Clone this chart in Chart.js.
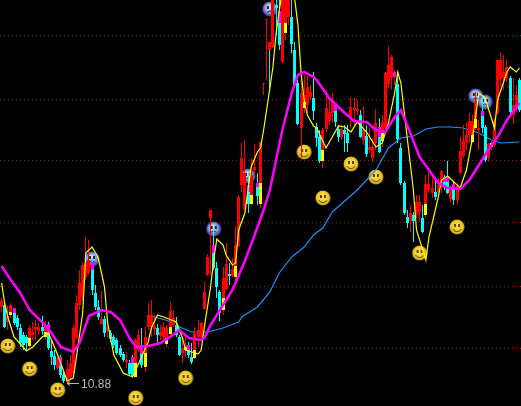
<!DOCTYPE html>
<html>
<head>
<meta charset="utf-8">
<title>K-line</title>
<script src="https://cdn.jsdelivr.net/npm/chart.js@4/dist/chart.umd.min.js"></script>
<style>
  html, body { margin: 0; padding: 0; background: #000; overflow: hidden; }
  canvas { display: block; }
</style>
</head>
<body>
<canvas id="kline" width="521" height="406"></canvas>
<script>
/* ── candles ───────────────────────────────────────────────────── */
const opens = [13.92,14.0,13.32,13.6,13.88,13.48,13.08,12.8,12.72,12.36,12.8,13.0,12.96,13.12,12.72,13.24,12.16,11.96,11.48,11.92,
  11.2,10.92,11.12,11.28,12.68,14.0,14.32,15.12,15.28,15.72,14.48,13.92,13.24,13.44,12.96,12.88,12.72,12.6,12.28,12.04,
  11.72,11.68,11.92,11.12,12.2,12.4,11.52,13.12,13.12,13.04,13.08,12.76,12.72,12.44,12.84,13.2,13.2,12.72,12.08,12.2,
  12.4,11.92,11.88,12.72,12.72,13.84,15.2,17.48,16.4,15.48,14.52,13.8,14.64,15.24,15.16,15.12,16.36,18.8,17.84,18.8,
  18.04,19.4,18.88,18.04,22.84,25.4,24.52,24.32,26.0,25.76,23.72,24.88,25.52,25.52,24.2,22.88,21.08,21.88,22.0,22.32,
  22.28,21.12,20.72,19.76,21.04,21.36,21.68,22.0,21.04,20.72,21.0,20.88,21.48,21.8,21.76,21.6,20.6,20.76,20.2,19.88,
  20.48,21.12,20.56,21.08,22.84,23.08,23.12,22.84,20.28,18.88,17.52,17.36,17.6,17.6,17.72,17.48,17.6,18.6,18.48,18.52,
  18.52,18.68,19.12,19.12,18.24,18.84,18.2,19.28,19.96,20.52,20.8,20.52,21.08,21.0,21.76,21.12,19.88,20.32,20.4,21.68,
  23.04,23.08,23.08,23.08,21.6,21.84,23.0];
const closes = [14.16,13.12,13.56,14.0,13.28,13.12,12.48,12.4,12.48,13.08,12.92,13.12,13.12,12.96,13.16,12.28,11.92,11.6,11.88,11.2,
  10.96,11.44,11.68,13.08,14.08,14.88,15.6,15.68,15.8,14.6,13.92,13.52,13.44,12.88,13.12,12.64,12.4,12.08,12.0,11.8,
  11.8,11.24,11.16,12.6,12.8,11.6,12.72,13.6,13.6,13.16,12.8,12.92,13.12,13.08,13.76,13.48,12.8,12.0,12.28,12.4,
  12.0,11.72,12.88,13.0,13.28,14.52,15.92,17.8,15.48,14.72,13.68,15.08,15.64,15.16,15.44,16.4,18.32,19.88,19.28,18.04,
  19.2,19.52,18.36,20.52,22.88,25.44,24.2,26.2,25.88,24.4,26.4,26.4,26.4,24.44,22.8,21.24,22.48,22.4,22.72,22.52,
  21.76,20.68,19.76,21.0,21.88,21.72,22.12,21.32,20.72,21.04,20.84,20.48,21.92,21.88,21.84,20.72,21.0,20.04,20.32,20.32,
  21.28,20.12,21.32,23.28,23.6,23.92,23.32,20.64,18.88,17.68,17.28,17.68,17.36,18.12,18.12,16.92,18.84,18.84,18.68,18.32,
  18.8,19.36,18.72,18.48,18.68,18.2,18.76,20.16,20.56,20.8,21.36,21.36,22.08,21.08,21.08,19.8,20.44,20.48,21.36,23.8,
  23.8,23.32,23.52,21.72,22.0,22.4,21.8];
const highs = [14.28,14.12,14.0,14.08,13.88,13.6,13.24,12.92,12.8,13.16,13.32,13.4,13.28,13.56,13.36,13.32,12.6,12.2,12.0,12.0,
  11.32,11.8,12.0,13.2,14.4,15.4,15.72,16.72,16.6,15.88,14.8,14.2,14.56,13.56,13.2,13.0,12.8,12.68,12.4,12.12,
  12.12,11.8,12.0,12.68,13.04,13.08,13.12,14.08,14.2,13.6,13.24,13.2,13.32,13.2,14.12,13.8,13.52,12.8,12.72,12.72,
  12.52,12.48,13.12,13.4,13.32,14.92,16.04,17.8,17.0,15.72,14.6,15.52,16.48,15.68,15.88,17.12,18.4,20.48,20.6,19.28,
  19.88,20.44,19.28,20.52,22.88,25.44,24.52,26.4,26.4,26.4,26.4,26.4,26.4,26.4,24.52,23.0,23.2,23.2,23.16,22.8,
  23.32,21.28,21.0,21.08,22.6,22.2,22.48,22.0,21.2,21.2,21.2,21.2,22.32,22.28,22.2,21.8,21.96,21.2,21.08,20.68,
  21.84,21.48,21.6,23.32,24.36,24.0,23.4,23.32,20.48,18.96,17.8,18.0,17.72,18.4,18.4,18.0,19.2,19.32,19.2,19.12,
  19.08,19.4,19.2,19.76,18.8,18.92,18.88,20.72,21.2,21.28,21.68,21.6,22.52,21.4,22.32,21.2,20.48,20.56,21.48,23.8,
  24.08,24.0,23.8,23.16,23.08,22.8,23.08];
const lows = [13.72,13.08,13.0,13.48,13.2,13.0,12.32,12.2,12.2,12.28,12.6,12.6,12.8,12.8,12.6,12.2,11.6,11.4,11.4,11.08,
  10.88,10.88,11.0,11.2,12.6,13.8,14.2,15.0,15.2,14.4,13.8,13.4,13.2,12.72,12.68,12.52,12.28,12.0,11.92,11.72,
  11.48,11.2,11.12,11.12,12.12,11.48,11.32,13.0,12.72,12.8,12.48,12.6,12.6,12.32,12.76,13.12,12.72,11.96,11.68,11.92,
  11.88,11.64,11.84,12.32,12.68,13.8,15.16,15.2,15.4,14.28,13.36,13.6,14.6,14.8,15.12,15.0,16.32,18.52,17.8,17.68,
  18.0,19.2,18.0,17.88,22.4,23.0,22.6,24.28,24.8,24.2,23.68,24.6,25.2,24.08,22.68,21.2,19.88,21.68,21.68,22.2,
  21.4,20.32,19.68,19.48,20.92,21.2,21.28,21.12,20.52,20.6,20.12,20.12,21.08,21.2,21.6,20.68,20.4,19.92,20.08,19.72,
  20.2,20.08,20.32,21.0,22.68,22.6,22.8,20.48,18.8,17.6,17.08,16.92,16.52,17.48,17.32,16.88,17.48,18.48,18.28,18.2,
  18.48,18.48,18.6,18.44,18.12,18.0,18.0,19.24,19.88,20.2,20.48,20.48,21.0,20.2,20.88,19.72,19.72,20.2,20.32,21.6,
  22.72,22.6,22.92,21.64,21.24,21.72,21.72];

/* body parts in another colour: [index, from, to] */
const yellowMarks = [[3,13.72,13.6],[9,12.68,12.36],[14,12.92,12.72],[43,11.68,11.12],[46,12.08,11.52],[53,12.68,12.44],[54,13.12,12.84],
  [59,12.32,12.2],[62,12.2,11.88],[71,14.28,13.8],[75,15.56,15.12],[80,18.4,18.04],[83,18.88,18.04],[91,25.28,24.88],[97,22.12,21.88],
  [103,20.2,19.76],[122,20.88,20.56],[136,18.04,17.6],[151,20.8,20.52],[152,21.44,21.08],[157,20.48,20.32]];
const magentaMarks = [[4,13.88,13.68],[15,13.24,12.84],[19,11.92,11.56],[29,15.72,15.4],[42,11.92,11.68],[45,12.4,12.04],[60,12.4,12.2],
  [68,16.4,16.08],[79,18.8,18.52],[82,18.88,18.72],[89,25.76,25.28],[107,22.0,21.76],[121,21.12,20.72],[126,23.32,23.12],
  [142,19.12,18.92],[143,19.12,18.92],[145,18.84,18.64],[154,21.76,21.56]];
const redMarks = [[86,24.52,24.2]];

/* ── lines: index + value at each vertex ───────────────────────── */
const yellowIdx = [0,1,2,4,8,10,13,15,16,18,20,21,23,24,26,27,29,31,33,34,36,39,42,44,47,48,50,52,56,58,59,63,64,65,67,68,69,71,72,74,75,76,78,80,82,83,84,
  87,88,90,93,94,95,96,97,98,100,101,104,106,108,110,112,114,117,120,122,124,126,127,128,130,132,133,136,137,140,141,143,145,147,149,151,153,155,158,159,162,163,165,166];
const yellowVals = [14.88,14.08,13.52,12.72,12.16,12.32,12.72,12.88,12.6,12.0,11.32,10.96,11.08,11.92,13.68,16.08,16.32,15.88,14.72,13.28,12.0,11.28,11.12,11.68,12.52,13.08,13.6,13.52,13.32,12.68,12.2,12.04,12.2,13.12,14.72,15.8,16.64,16.4,16.0,15.6,15.68,17.0,17.68,19.52,20.12,20.28,21.0,
  23.52,24.88,26.6,26.6,26.2,25.2,23.28,22.2,21.6,21.16,21.08,20.28,20.72,21.16,21.12,20.92,21.32,20.92,20.32,20.48,21.28,22.48,23.32,22.88,20.72,18.6,17.0,15.8,16.72,18.32,19.0,19.16,18.92,18.68,19.4,20.72,22.48,22.28,21.08,22.2,23.32,23.52,23.32,23.48];

const magentaIdx = [0,3,6,9,13,16,19,23,25,28,32,35,38,41,43,47,51,54,57,60,64,65,67,70,74,78,81,84,86,88,90,93,95,97,100,101,105,108,110,113,117,120,123,126,128,131,134,140,143,147,150,153,156,159,162,166];
const magentaVals = [15.56,15.0,14.48,13.8,13.32,12.88,12.32,12.12,12.48,13.56,13.8,13.72,13.4,12.68,12.32,12.36,12.48,12.72,13.0,12.68,12.6,12.68,13.2,13.8,14.6,15.76,16.76,17.8,18.6,19.8,21.0,22.48,23.2,23.32,23.12,23.0,22.28,21.92,21.68,21.36,21.32,21.0,20.92,21.52,21.8,20.88,19.92,18.88,18.68,18.64,19.0,19.6,20.2,20.72,21.4,22.08];

const blueIdx = [48,49,56,57,61,66,71,76,77,82,86,89,93,97,100,103,106,110,114,120,124,128,132,136,140,144,148,153,157,160,166];
const blueVals = [13.56,13.52,13.28,13.12,12.92,12.92,13.08,13.32,13.52,13.92,14.52,15.28,15.92,16.32,16.8,17.08,17.72,18.16,18.6,19.4,20.28,20.68,20.76,21.04,21.12,21.12,21.08,20.88,20.6,20.48,20.52];

/* faces */
const smileIdx = [2,9,18,43,59,97,103,112,120,134,146];
const smileVals = [12.36,11.44,10.6,10.28,11.08,20.12,18.28,19.64,19.12,16.08,17.12];
const sadIdx = [29,68,79,86,152,155];
const sadVals = [15.84,17.04,19.16,25.84,22.36,22.12];

/* horizontal dotted levels and the low label */
const gridLevels = [12.28,14.76,17.28,19.76,22.24,24.76];
const lowIndex = 21;
const lowValue = 10.88;

const labels = opens.map((_, i) => i);

/* ── helpers ───────────────────────────────────────────────────── */
const sparse = (idx, vals) => {
  const out = labels.map(() => null);
  idx.forEach((k, n) => { out[k] = vals[n]; });
  return out;
};
const markBars = marks => {
  const out = labels.map(() => null);
  marks.forEach(m => { out[m[0]] = [m[2], m[1]]; });
  return out;
};
const points = (idx, vals) => idx.map((k, n) => ({ x: k, y: vals[n] }));

function makeFace(sad) {
  const c = document.createElement('canvas');
  c.width = c.height = 16;
  const g = c.getContext('2d');
  const grad = g.createRadialGradient(7, 6, 1, 8, 8, 8);
  if (sad) {
    grad.addColorStop(0, '#dfe6ff');
    grad.addColorStop(0.55, '#7f94dc');
    grad.addColorStop(1, 'rgba(40,60,150,0.85)');
  } else {
    grad.addColorStop(0, '#ffe24a');
    grad.addColorStop(0.75, '#ecc020');
    grad.addColorStop(1, '#8a6a10');
  }
  g.fillStyle = grad;
  g.beginPath();
  g.arc(8, 8, 7.6, 0, Math.PI * 2);
  g.fill();
  g.fillStyle = g.strokeStyle = sad ? '#1a2050' : '#5a4008';
  g.fillRect(5, 5, 2, 3);
  g.fillRect(9, 5, 2, 3);
  g.lineWidth = 1;
  g.beginPath();
  if (sad) g.arc(8, 13.5, 3.4, Math.PI * 1.2, Math.PI * 1.8);
  else g.arc(8, 8, 4.6, Math.PI * 0.15, Math.PI * 0.85);
  g.stroke();
  return c;
}

const lineSet = (idx, vals, colour, width, order) => ({
  type: 'line', data: sparse(idx, vals), borderColor: colour, borderWidth: width,
  pointRadius: 0, spanGaps: true, tension: 0, order
});
const barSet = (data, colour, thickness, order) => ({
  type: 'bar', data, backgroundColor: colour, barThickness: thickness, grouped: false, inflateAmount: 0, order
});
const faceSet = (idx, vals, face, order) => ({
  type: 'scatter', data: points(idx, vals), pointStyle: face, pointRadius: 8, order
});

const candleColour = labels.map(i => (closes[i] >= opens[i] ? '#ff0000' : '#00ffff'));

/* bars land between pixels otherwise and come out blurred */
const snapBars = {
  id: 'snapBars',
  beforeDatasetsDraw(chart) {
    chart.getSortedVisibleDatasetMetas().forEach(meta => {
      if (meta.type !== 'bar') return;
      meta.data.forEach(el => {
        el.x = Math.floor(el.x) + 0.5;
        el.y = Math.round(el.y);
        el.base = Math.round(el.base);
        if (Math.abs(el.base - el.y) < 1) el.base = el.y + 1;
      });
    });
  }
};

/* «←10.88» next to the lowest candle */
const lowLabel = {
  id: 'lowLabel',
  afterDatasetsDraw(chart) {
    const x = chart.scales.x.getPixelForValue(lowIndex);
    const y = Math.round(chart.scales.y.getPixelForValue(lowValue)) + 0.5;
    const g = chart.ctx;
    g.save();
    g.strokeStyle = g.fillStyle = '#b8b8b8';
    g.lineWidth = 1;
    g.beginPath();
    g.moveTo(x, y); g.lineTo(x + 12, y);
    g.moveTo(x + 3, y - 2); g.lineTo(x, y); g.lineTo(x + 3, y + 2);
    g.stroke();
    g.font = '12px "Liberation Sans", Arial, sans-serif';
    g.textBaseline = 'middle';
    g.fillText(String(lowValue), x + 14, y + 1);
    g.restore();
  }
};

new Chart(document.getElementById('kline'), {
  data: {
    labels,
    datasets: [
      lineSet(magentaIdx, magentaVals, '#ff00ff', 2.5, 1),
      lineSet(yellowIdx, yellowVals, '#ffff00', 1.2, 2),
      barSet(markBars(yellowMarks), '#ffff00', 3, 3),
      barSet(markBars(magentaMarks), '#ff00ff', 3, 3),
      barSet(markBars(redMarks), '#ff0000', 3, 3),
      barSet(labels.map(i => [opens[i], closes[i]]), candleColour, 3, 4),
      barSet(labels.map(i => [lows[i], highs[i]]), candleColour, 1, 5),
      lineSet(blueIdx, blueVals, '#1e90ff', 1.2, 6),
      faceSet(smileIdx, smileVals, makeFace(false), 7),
      faceSet(sadIdx, sadVals, makeFace(true), 7)
    ]
  },
  options: {
    responsive: false,
    animation: false,
    layout: { padding: 0, autoPadding: false },
    plugins: { legend: { display: false }, tooltip: { enabled: false }, title: { display: false } },
    scales: {
      x: { type: 'category', display: false, offset: true },
      y: {
        min: 9.96,
        max: 26.2,
        afterBuildTicks: axis => { axis.ticks = gridLevels.map(value => ({ value })); },
        ticks: { display: false },
        border: { display: false, dash: [1, 3] },
        grid: { color: '#902020', lineWidth: 1, drawTicks: false }
      }
    }
  },
  plugins: [snapBars, lowLabel]
});
</script>
</body>
</html>
